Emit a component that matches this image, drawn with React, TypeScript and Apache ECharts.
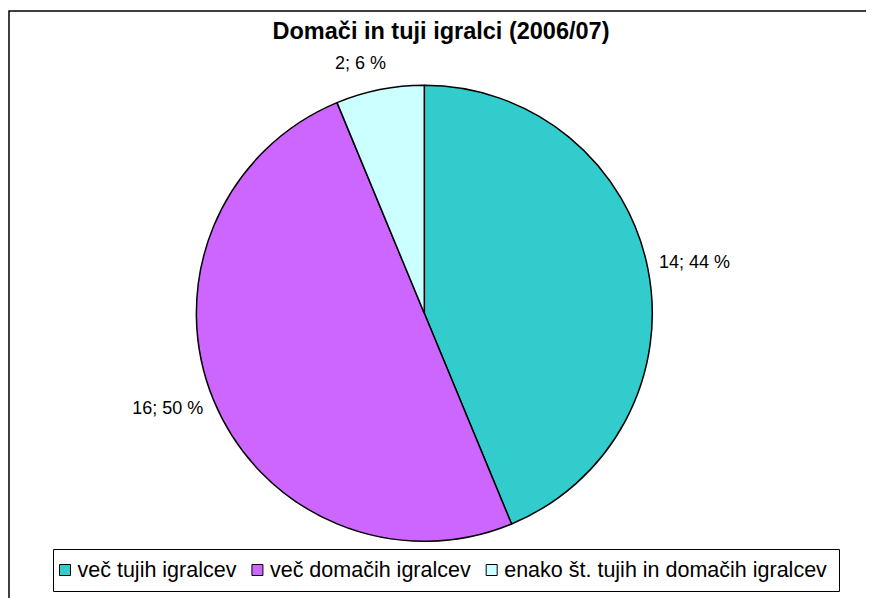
import React, { useEffect, useRef } from "react";
import * as echarts from "echarts";

const TITLE = "Domači in tuji igralci (2006/07)";
const CATEGORIES = [
  "več tujih igralcev",
  "več domačih igralcev",
  "enako št. tujih in domačih igralcev",
];
const VALUES = [14, 16, 2];
const COLORS = ["#33CCCC", "#CC66FF", "#CCFFFF"];

const FONT = "'Liberation Sans', Arial, sans-serif";
const CX = 416.3;
const CY = 305.3;
const RADIUS = 228;
const LABEL_GAP = 12;
// small visual nudges for label placement (style only)
const LABEL_NUDGE = [
  [0, -3],
  [-2, -1],
  [-12, -6],
];

export default function App() {
  const ref = useRef<HTMLDivElement>(null);

  useEffect(() => {
    if (!ref.current) return;
    const chart = echarts.init(ref.current, undefined, { renderer: "svg" });
    const total = VALUES.reduce((a, b) => a + b, 0);
    const mids: number[] = [];
    let acc = 0;
    VALUES.forEach((v) => {
      mids.push(((acc + v / 2) / total) * Math.PI * 2);
      acc += v;
    });

    chart.setOption({
      animation: false,
      backgroundColor: "#ffffff",
      graphic: [
        {
          type: "rect",
          z: 0,
          shape: { x: 1, y: 3, width: 864, height: 600 },
          style: { fill: "none", stroke: "#000", lineWidth: 1.5 },
          silent: true,
        },
        {
          type: "rect",
          z: 0,
          shape: { x: 45.5, y: 541.5, width: 786, height: 42 },
          style: { fill: "#fff", stroke: "#000", lineWidth: 1 },
          silent: true,
        },
        {
          type: "text",
          x: 433,
          y: 22.5,
          style: {
            text: TITLE,
            font: `bold 23.5px ${FONT}`,
            fill: "#000",
            textAlign: "center",
            textVerticalAlign: "middle",
          },
          silent: true,
        },
      ],
      legend: {
        data: CATEGORIES,
        left: 51,
        top: 551,
        padding: 0,
        itemGap: 15,
        itemWidth: 11,
        itemHeight: 11,
        icon: "rect",
        itemStyle: { borderColor: "#000", borderWidth: 1 },
        textStyle: {
          fontFamily: FONT,
          fontSize: 21.5,
          lineHeight: 22,
          color: "#000",
          padding: [0, 0, 0, 2],
        },
        selectedMode: false,
      },
      series: [
        {
          type: "pie",
          center: [CX, CY],
          radius: RADIUS,
          startAngle: 90,
          clockwise: true,
          percentPrecision: 0,
          avoidLabelOverlap: false,
          data: CATEGORIES.map((name, i) => ({
            name,
            value: VALUES[i],
            itemStyle: { color: COLORS[i] },
          })),
          itemStyle: { borderColor: "#000", borderWidth: 1.5 },
          emphasis: { disabled: true },
          label: {
            show: true,
            position: "outside",
            formatter: "{c}; {d} %",
            fontFamily: FONT,
            fontSize: 18,
            color: "#000",
          },
          labelLine: { show: false },
          labelLayout: (p: any) => {
            const a = mids[p.dataIndex];
            const nx = Math.sin(a);
            const ny = -Math.cos(a);
            const w = p.labelRect.width;
            const h = p.labelRect.height;
            const R = RADIUS + LABEL_GAP;
            const nudge = LABEL_NUDGE[p.dataIndex] || [0, 0];
            return {
              x: CX + nx * R + (nx * w) / 2 + nudge[0],
              y: CY + ny * R + (ny * h) / 2 + nudge[1],
              align: "center",
              verticalAlign: "middle",
            };
          },
        },
      ],
    });
    return () => chart.dispose();
  }, []);

  return <div ref={ref} style={{ width: 866, height: 590 }} />;
}
